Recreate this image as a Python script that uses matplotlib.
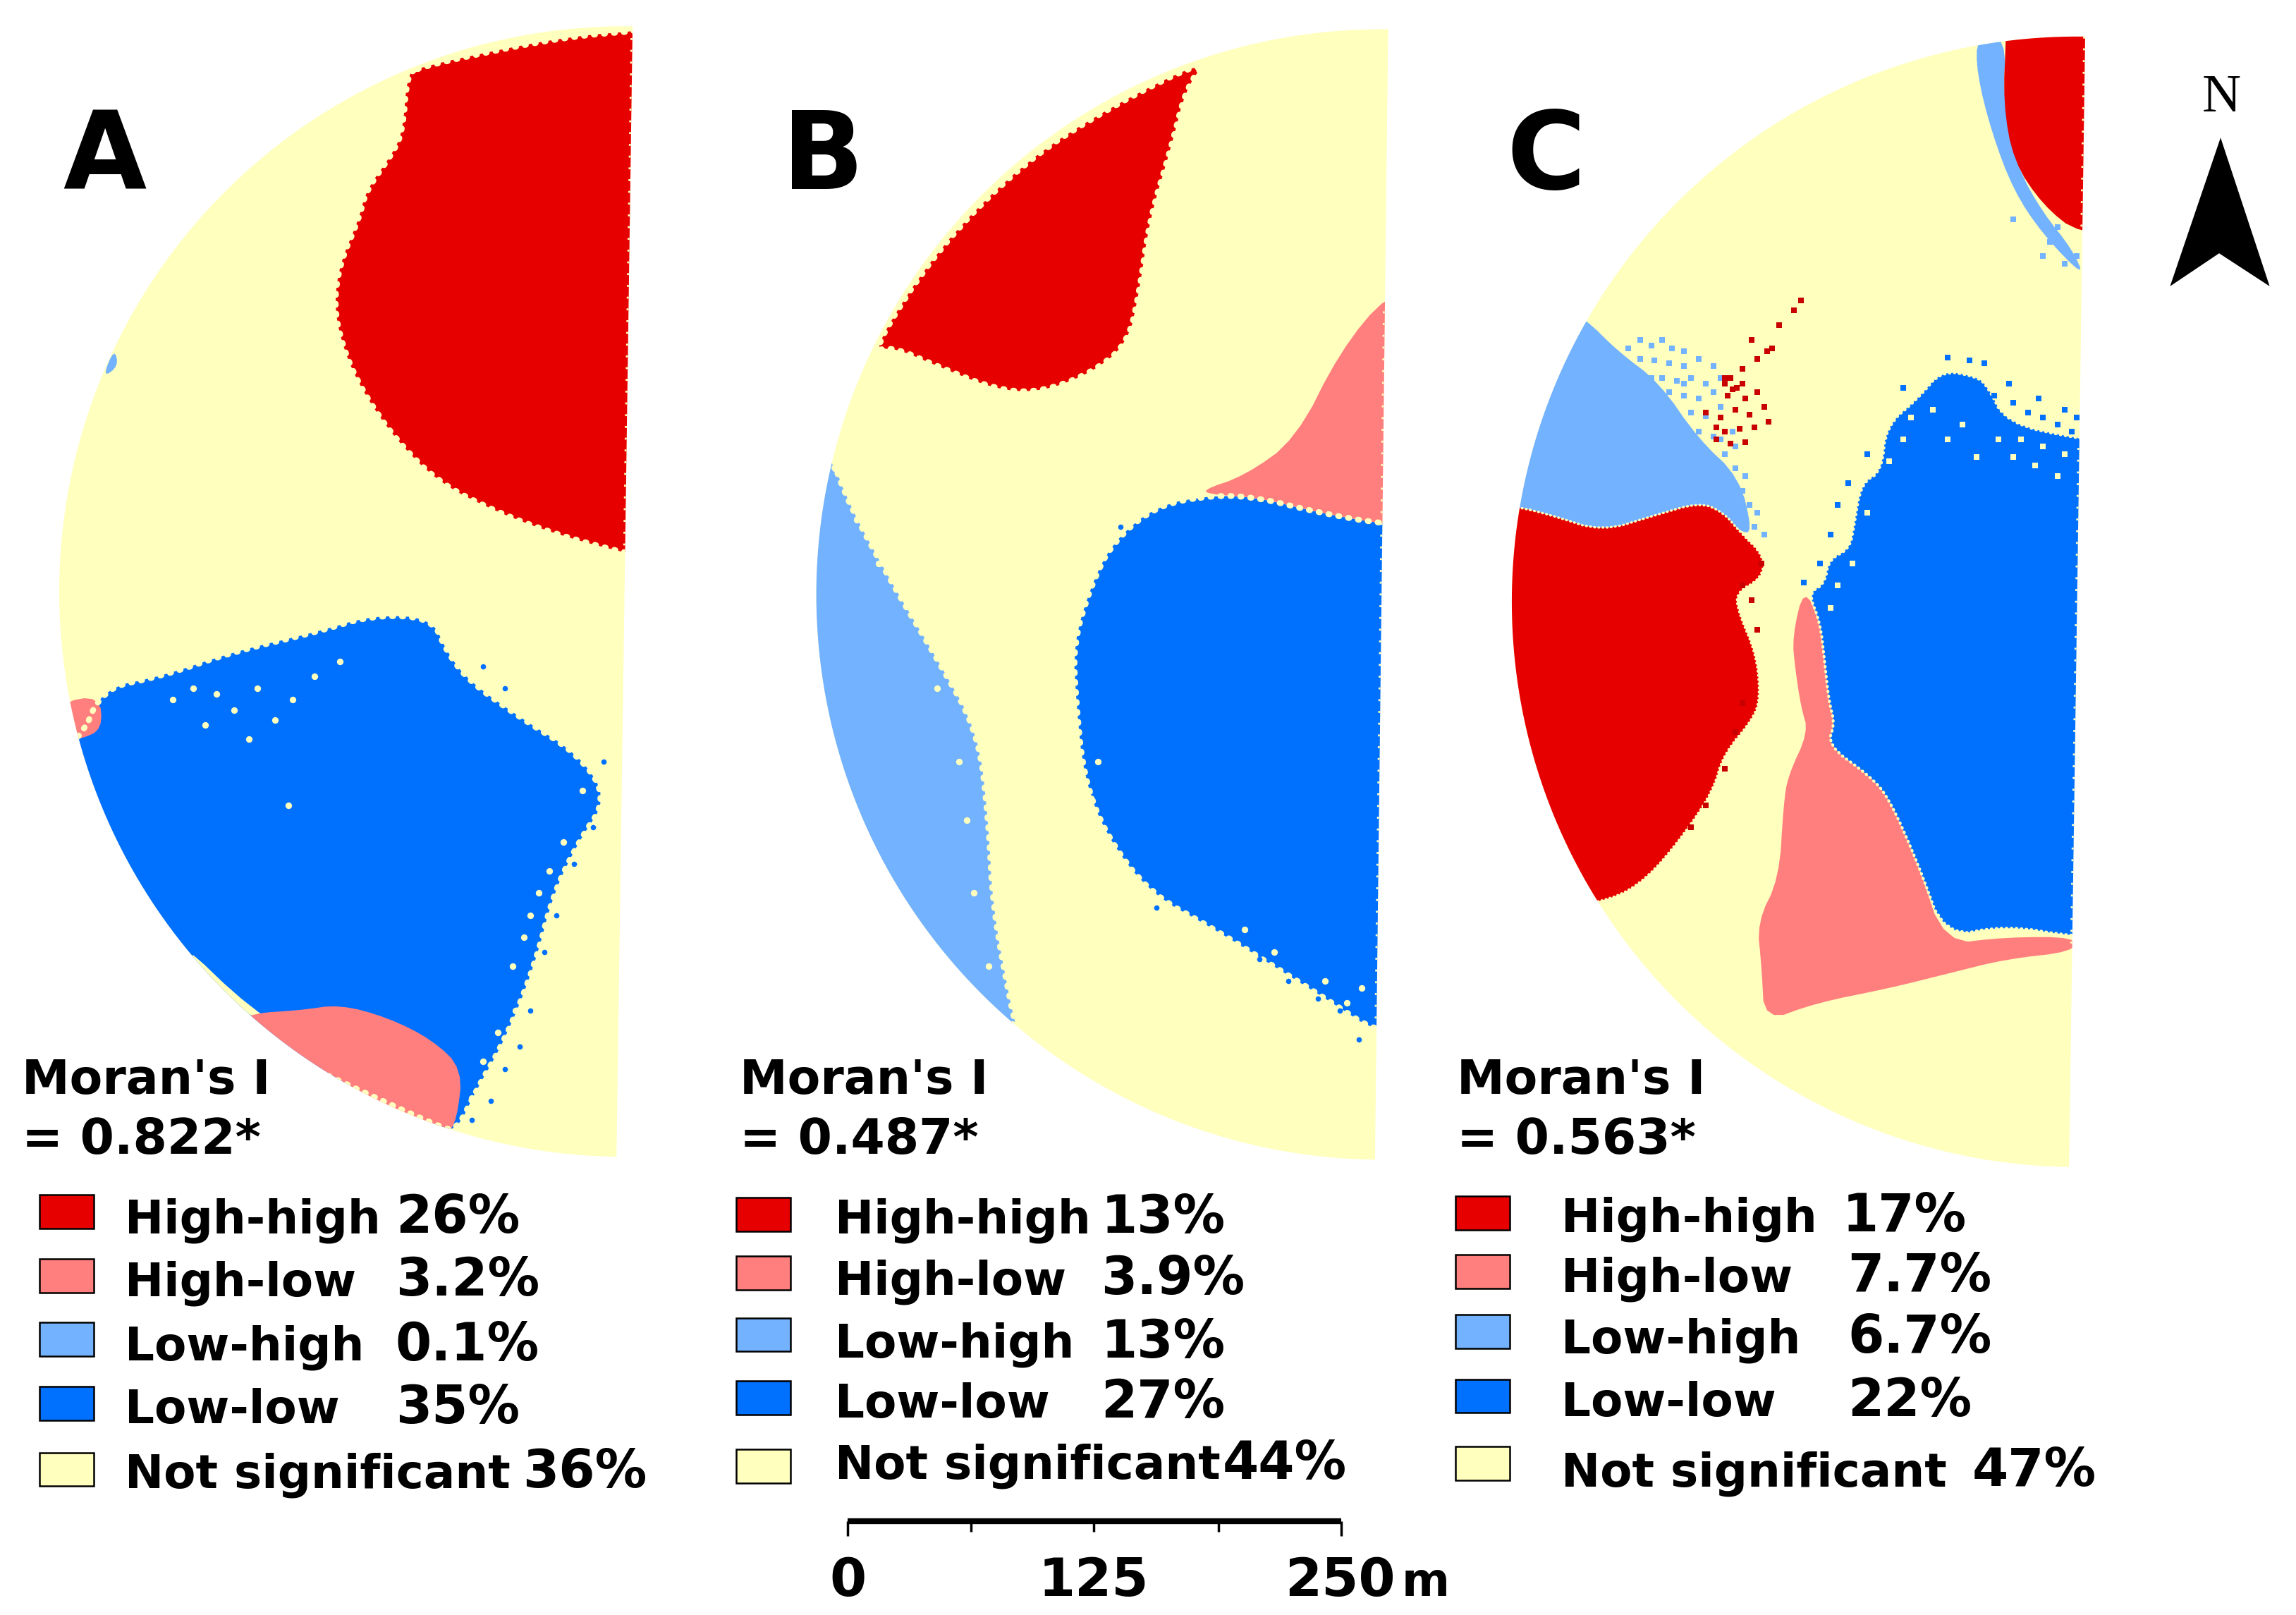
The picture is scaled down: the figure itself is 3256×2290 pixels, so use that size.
import numpy as np
import matplotlib
matplotlib.use("Agg")
import matplotlib.pyplot as plt
from matplotlib.patches import Polygon

plt.rcParams['font.family'] = ['DejaVu Sans']

# Class colours
RED = '#E60000'
PINK = '#FF7F7F'
LIGHT_BLUE = '#73B2FF'
BLUE = '#0070FF'
YELLOW = '#FFFFBE'

class_names = ['High-high', 'High-low', 'Low-high', 'Low-low', 'Not significant']
class_colors = [RED, PINK, LIGHT_BLUE, BLUE, YELLOW]

panel_names = ['A', 'B', 'C']
moran_values = ['= 0.822*', '= 0.487*', '= 0.563*']
percent_a = ['26%', '3.2%', '0.1%', '35%', '36%']
percent_b = ['13%', '3.9%', '13%', '27%', '44%']
percent_c = ['17%', '7.7%', '6.7%', '22%', '47%']

# Straight edge of each half disc, top and bottom end
edge_a = [(432, 18), (421, 790)]
edge_b = [(948, 20), (939, 792)]
edge_c = [(1424, 25), (1413, 797)]

# Region outlines
a_red = [(285, 46), (278, 52), (275, 90), (268, 105), (250, 130), (245, 150), (232, 180), (228, 210),
         (235, 240), (248, 268), (270, 300), (300, 330), (340, 350), (380, 365), (428, 378), (445, 380),
         (480, 380), (480, 20), (445, 20), (425, 22), (400, 24), (360, 30)]
a_blue = [(55, 505), (70, 470), (110, 462), (160, 445), (215, 432), (255, 420), (295, 422), (305, 445),
          (320, 465), (355, 490), (395, 515), (415, 545), (395, 575), (378, 610), (365, 660), (345, 710),
          (325, 745), (312, 772), (300, 770), (150, 700), (30, 520)]
a_strip = [(120, 640), (172, 690), (212, 712), (160, 690)]
a_pink_1 = [(40, 480), (68, 475), (70, 498), (55, 505), (40, 505)]
a_pink_2 = [(172, 692), (205, 690), (232, 686), (265, 695), (295, 710), (316, 730), (312, 765), (305, 775),
            (200, 745), (160, 700)]
a_light = [(70, 258), (78, 238), (81, 250)]
a_holes = [(118, 478), (132, 470), (148, 474), (160, 485), (176, 470), (188, 492), (200, 478), (197, 550),
           (215, 462), (232, 452), (140, 495), (170, 505), (350, 660), (358, 640), (368, 610), (352, 690),
           (340, 705), (330, 725), (338, 740), (322, 750), (385, 575), (398, 540), (375, 595), (362, 625)]
a_blue_spots = [(345, 730), (355, 715), (335, 752), (322, 765), (362, 690), (372, 650), (380, 625), (392, 590),
                (405, 565), (412, 520), (345, 470), (330, 455), (120, 665)]

b_red = [(825, 40), (810, 60), (800, 100), (785, 150), (778, 200), (770, 235), (745, 255), (710, 268),
         (680, 266), (640, 250), (610, 237), (595, 240), (640, 170), (700, 110), (760, 72)]
b_pink = [(820, 335), (850, 325), (885, 300), (915, 240), (948, 200), (975, 200), (975, 360), (945, 358),
          (900, 350), (860, 340), (830, 338)]
b_blue = [(830, 338), (790, 345), (760, 370), (745, 400), (733, 440), (735, 480), (740, 530), (755, 570),
          (785, 610), (830, 635), (870, 660), (910, 685), (940, 705), (975, 705), (975, 358), (945, 358),
          (900, 350), (860, 340)]
b_light = [(567, 310), (580, 345), (610, 400), (640, 450), (668, 500), (675, 560), (678, 620), (690, 685),
           (695, 705), (660, 680), (600, 600), (540, 450), (540, 300)]
b_holes = [(890, 675), (905, 670), (920, 685), (930, 675), (870, 650), (850, 635), (745, 545), (750, 520),
           (640, 470), (655, 520), (660, 560), (665, 610), (675, 660), (600, 385), (585, 355)]
b_blue_spots = [(935, 695), (915, 690), (900, 682), (880, 670), (860, 655), (790, 620), (765, 360), (745, 420),
                (928, 710), (938, 690)]

c_red_top = [(1370, 25), (1368, 70), (1375, 110), (1395, 140), (1420, 160), (1470, 160), (1470, -10), (1370, -10)]
c_light_top = [(1350, 25), (1370, 25), (1368, 70), (1378, 115), (1395, 145), (1415, 170), (1424, 190),
               (1395, 160), (1375, 130), (1360, 90), (1350, 50)]
c_light = [(1083, 218), (1105, 240), (1133, 261), (1160, 300), (1188, 326), (1197, 364), (1188, 363),
           (1177, 350), (1161, 343), (1130, 352), (1094, 363), (1060, 352), (1036, 346), (1020, 346),
           (1060, 205)]
c_red = [(1036, 346), (1060, 352), (1094, 363), (1130, 352), (1161, 343), (1177, 350), (1188, 363),
         (1205, 380), (1203, 395), (1185, 405), (1188, 420), (1199, 446), (1202, 472), (1199, 489),
         (1177, 515), (1170, 540), (1150, 570), (1125, 600), (1100, 615), (1060, 620), (1010, 400),
         (1020, 346)]
c_blue = [(1326, 253), (1310, 272), (1288, 291), (1285, 322), (1271, 330), (1266, 360), (1263, 375),
          (1249, 382), (1246, 399), (1235, 405), (1243, 425), (1246, 451), (1249, 479), (1253, 494),
          (1248, 509), (1277, 530), (1290, 545), (1310, 590), (1328, 640), (1370, 632), (1418, 640),
          (1470, 640), (1470, 305), (1421, 300), (1370, 289), (1357, 263), (1349, 257)]
c_pink = [(1232, 401), (1243, 425), (1246, 451), (1249, 479), (1253, 494), (1248, 509), (1277, 530),
          (1290, 545), (1310, 590), (1328, 645), (1370, 640), (1418, 640), (1416, 650), (1370, 655),
          (1330, 665), (1290, 675), (1240, 685), (1205, 698), (1203, 660), (1200, 630), (1215, 600),
          (1218, 550), (1221, 530), (1235, 500), (1230, 483), (1226, 457), (1224, 435)]

# Speckled cells in panel C
c_light_spots = [(1112, 238), (1120, 232), (1128, 236), (1135, 232), (1142, 238), (1150, 240), (1120, 245),
                 (1130, 246), (1140, 248), (1150, 250), (1160, 245), (1170, 250), (1135, 258), (1145, 260),
                 (1155, 258), (1165, 262), (1175, 258), (1150, 270), (1160, 272), (1170, 268), (1155, 282),
                 (1165, 284), (1175, 278), (1160, 295), (1170, 298), (1165, 308), (1178, 310), (1185, 320),
                 (1180, 330), (1190, 335), (1195, 345), (1190, 355), (1198, 360), (1175, 300), (1183, 295),
                 (1192, 325), (1200, 350), (1205, 365), (1150, 262), (1140, 268), (1128, 258), (1185, 305),
                 (1355, 40), (1375, 150), (1400, 165), (1410, 180), (1418, 175), (1395, 175), (1405, 155)]
c_red_spots = [(1178, 262), (1182, 258), (1186, 265), (1180, 270), (1192, 272), (1200, 268), (1175, 285),
               (1185, 280), (1195, 283), (1205, 278), (1178, 295), (1188, 293), (1198, 292), (1208, 288),
               (1172, 300), (1182, 303), (1192, 302), (1190, 252), (1200, 245), (1210, 238), (1215, 222),
               (1225, 212), (1230, 205), (1196, 232), (1207, 240), (1172, 292), (1165, 282), (1183, 266),
               (1178, 258), (1190, 262), (1203, 385), (1196, 410), (1190, 400), (1200, 430), (1185, 500),
               (1190, 480), (1178, 525), (1165, 550), (1155, 565)]
c_blue_spots = [(1362, 270), (1375, 275), (1385, 282), (1395, 285), (1405, 290), (1415, 295), (1372, 262),
                (1355, 248), (1345, 246), (1330, 244), (1392, 272), (1410, 280), (1418, 285), (1300, 265),
                (1275, 310), (1262, 330), (1255, 345), (1250, 365), (1243, 385), (1232, 398)]
c_yellow_spots = [(1320, 280), (1340, 290), (1380, 300), (1395, 305), (1410, 310), (1365, 300), (1300, 300),
                  (1350, 312), (1390, 318), (1305, 285), (1330, 300), (1405, 325), (1290, 315), (1275, 350),
                  (1265, 385), (1255, 400), (1250, 415), (1375, 312)]

# Legend layout
label_x = [85, 570, 1066]
swatch_x = [27, 503, 994]
value_x = [[270, 270, 270, 270, 357], [752, 752, 752, 752, 835], [1258, 1262, 1262, 1262, 1347]]
swatch_top = [[816, 860, 903, 947, 992], [818, 858, 900, 943, 990], [817, 857, 898, 942, 988]]
text_base = [[842, 885, 929, 972, 1016], [842, 884, 927, 968, 1010], [841, 882, 924, 967, 1015]]
moran_x = [15, 505, 995]

scale_ticks = [579, 663, 747, 832, 916]
scale_labels = ['0', '125', '250']
arrow = [(1516.5, 94), (1482, 195.5), (1515.5, 173), (1550, 195.5)]


def half_disc(edge):
    (x0, y0), (x1, y1) = edge
    cx, cy = (x0 + x1) / 2, (y0 + y1) / 2
    r = np.hypot(x1 - x0, y1 - y0) / 2
    t0 = np.arctan2(y0 - cy, x0 - cx)
    t = np.linspace(t0, t0 - np.pi, 300)
    return np.column_stack([cx + r * np.cos(t), cy + r * np.sin(t)])


def smooth(pts):
    # corner cutting so the outlines do not look like straight segments
    p = np.array(pts, dtype=float)
    for _ in range(2):
        q = np.roll(p, -1, axis=0)
        p = np.column_stack([0.75 * p + 0.25 * q, 0.25 * p + 0.75 * q]).reshape(-1, 2)
    return p


def region(ax, clip, pts, color, speck=6.0):
    # dotted pale outline gives the speckled cluster border
    p = Polygon(smooth(pts), closed=True, facecolor=color, edgecolor='none', zorder=2)
    ax.add_patch(p)
    p.set_clip_path(clip)
    if speck > 0:
        e = Polygon(smooth(pts), closed=True, fill=False, edgecolor=YELLOW, lw=speck, ls=(0, (0.2, 1.5)),
                    capstyle='round', zorder=3)
        ax.add_patch(e)
        e.set_clip_path(clip)


def spots(ax, clip, pts, color, size=26, marker='s'):
    a = np.array(pts)
    s = ax.scatter(a[:, 0], a[:, 1], s=size, marker=marker, color=color, linewidths=0, zorder=4)
    s.set_clip_path(clip)


fig = plt.figure(figsize=(32.56, 22.90), dpi=100)
ax = fig.add_axes([0, 0, 1, 1])
ax.set_xlim(0, 1568)
ax.set_ylim(1103, 0)
ax.axis('off')

clips = []
for edge in [edge_a, edge_b, edge_c]:
    base = Polygon(half_disc(edge), closed=True, facecolor=YELLOW, edgecolor='none', zorder=1)
    ax.add_patch(base)
    clips.append(base)

# Panel A
region(ax, clips[0], a_red, RED)
region(ax, clips[0], a_blue, BLUE)
region(ax, clips[0], a_strip, YELLOW, 0)
region(ax, clips[0], a_pink_1, PINK, 0)
region(ax, clips[0], a_pink_2, PINK, 0)
region(ax, clips[0], a_light, LIGHT_BLUE, 0)
spots(ax, clips[0], a_holes, YELLOW, 45, 'o')
spots(ax, clips[0], a_blue_spots, BLUE, 30, 'o')

# Panel B
region(ax, clips[1], b_red, RED)
region(ax, clips[1], b_blue, BLUE)
region(ax, clips[1], b_pink, PINK, 0)
region(ax, clips[1], b_light, LIGHT_BLUE)
spots(ax, clips[1], b_holes, YELLOW, 45, 'o')
spots(ax, clips[1], b_blue_spots, BLUE, 30, 'o')

# Panel C
region(ax, clips[2], c_light_top, LIGHT_BLUE, 0)
region(ax, clips[2], c_red_top, RED, 0)
region(ax, clips[2], c_light, LIGHT_BLUE, 0)
region(ax, clips[2], c_red, RED, 2.5)
region(ax, clips[2], c_blue, BLUE, 3)
region(ax, clips[2], c_pink, PINK, 0)
spots(ax, clips[2], c_light_spots, LIGHT_BLUE)
spots(ax, clips[2], c_red_spots, '#C80000')
spots(ax, clips[2], c_blue_spots, BLUE)
spots(ax, clips[2], c_yellow_spots, YELLOW)

# Pale ticks down the straight edge
for edge, clip in zip([edge_a, edge_b, edge_c], clips):
    line, = ax.plot([edge[0][0], edge[1][0]], [edge[0][1], edge[1][1]], color=YELLOW, lw=4,
                    ls=(0, (0.5, 2.5)), zorder=4)
    line.set_clip_path(clip)

# Panel letters
letter_x = [43, 534, 1029]
for i in range(3):
    ax.text(letter_x[i], 129, panel_names[i], fontsize=110, fontweight='bold', ha='left', va='baseline',
            color='black', zorder=6)

# Moran's I and legends
values = [percent_a, percent_b, percent_c]
for i in range(3):
    ax.text(moran_x[i], 747, "Moran's I", fontsize=49, fontweight='bold', va='baseline', zorder=6)
    ax.text(moran_x[i], 788, moran_values[i], fontsize=50, fontweight='bold', va='baseline', zorder=6)
    for j in range(5):
        ax.add_patch(plt.Rectangle((swatch_x[i], swatch_top[i][j]), 37, 23, facecolor=class_colors[j],
                                   edgecolor='black', lw=1.8, zorder=5))
        ax.text(label_x[i], text_base[i][j], class_names[j], fontsize=47.5, fontweight='bold', va='baseline')
        ax.text(value_x[i][j], text_base[i][j], values[i][j], fontsize=53, fontweight='bold', va='baseline')

# Scale bar
ax.plot([scale_ticks[0], scale_ticks[-1]], [1039, 1039], color='black', lw=6, solid_capstyle='butt')
for k, xt in enumerate(scale_ticks):
    ax.plot([xt, xt], [1039, 1049 if k % 4 == 0 else 1046], color='black', lw=2.5, solid_capstyle='butt')
for xt, lab in zip([579, 747, 915], scale_labels):
    ax.text(xt, 1090, lab, fontsize=54, fontweight='bold', ha='center', va='baseline')
ax.text(957, 1090, 'm', fontsize=47, fontweight='bold', ha='left', va='baseline')

# North arrow
ax.add_patch(Polygon(arrow, closed=True, facecolor='black', edgecolor='none'))
ax.text(1517, 76, 'N', family='Liberation Serif', fontsize=55, ha='center', va='baseline')

fig.savefig('out.png', dpi=100)
